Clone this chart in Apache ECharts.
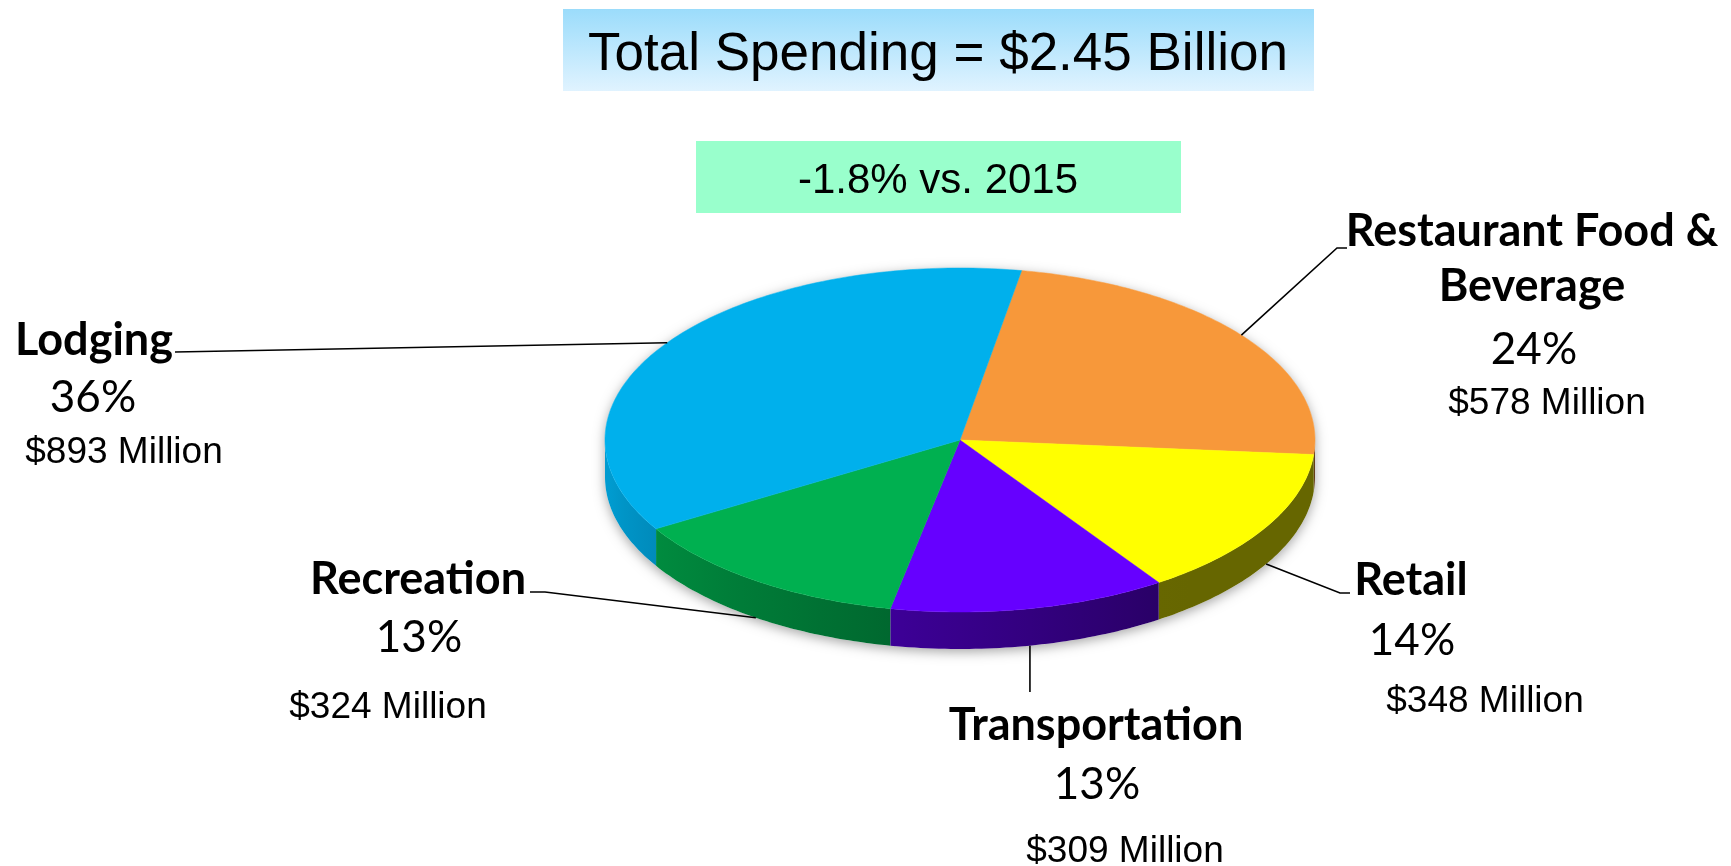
<!DOCTYPE html>
<html>
<head>
<meta charset="utf-8">
<title>Total Spending</title>
<script src="https://cdn.jsdelivr.net/npm/echarts@6/dist/echarts.min.js"></script>
<style>
html, body { margin: 0; padding: 0; background: #fff; }
#main { width: 1731px; height: 866px; }
</style>
</head>
<body>
<div id="main"></div>
<script>
// data
var categories = ['Restaurant Food &\nBeverage', 'Retail', 'Transportation', 'Recreation', 'Lodging'];
var millions = [578, 348, 309, 324, 893];
var shares = [24, 14, 13, 13, 36];
var topColors = ['#f7983a', '#ffff00', '#6600ff', '#00b050', '#00b0ec'];
var totalText = 'Total Spending = $2.45 Billion';
var changeText = '-1.8% vs. 2015';

// pie geometry
var cx = 960, cy = 440, rx = 355, ry = 172, depth = 37;
var startDeg = -80;

// where each label sits: leader line end points, text centre x / baseline y
// (a null x in a line point means "straight down from the slice")
var labelLayout = [
    { line: [[1337, 248], [1347, 248]], name: [1532, 244], gap: 55, pct: [1534, 362], money: [1547, 414] },
    { line: [[1340, 593], [1350, 593]], name: [1411, 593], pct: [1412, 653], money: [1485, 712] },
    { line: [[null, 692]], name: [1096, 738], pct: [1097, 797], money: [1125, 862] },
    { line: [[545, 592], [530, 592]], name: [418, 592], pct: [419, 650], money: [388, 718] },
    { line: [[175, 352]], name: [94, 353], pct: [93, 410], money: [124, 463] }
];

var nameSize = 45, pctSize = 44, moneySize = 37;

var total = millions.reduce(function (a, b) { return a + b; }, 0);
var bounds = [];
var acc = startDeg;
millions.forEach(function (v) {
    var a = acc;
    acc += v / total * 360;
    bounds.push([a, acc]);
});

function pt(t, dy) {
    var r = t * Math.PI / 180;
    return [cx + rx * Math.cos(r), cy + ry * Math.sin(r) + (dy || 0)];
}
function arc(s, e, dy) {
    var pts = [], n = Math.max(2, Math.ceil(Math.abs(e - s)));
    for (var k = 0; k <= n; k++) pts.push(pt(s + (e - s) * k / n, dy));
    return pts;
}
function shade(hex, f) {
    var n = parseInt(hex.slice(1), 16);
    return 'rgb(' + Math.round(((n >> 16) & 255) * f) + ',' + Math.round(((n >> 8) & 255) * f) + ',' + Math.round((n & 255) * f) + ')';
}
function sideF(t) {
    return Math.max(0.4, Math.min(0.88, 0.4 + (t - 55) / 115 * 0.48));
}
// centred text placed by its baseline
function txt(text, x, baseline, family, size, weight) {
    var k = family === 'Lato' ? 0.28 : 0.27;
    return {
        type: 'text',
        x: x,
        y: baseline - size * k,
        style: {
            text: text,
            fontFamily: family, fontSize: size, fontWeight: weight || 'normal',
            fill: '#000',
            align: 'center', textAlign: 'center',
            verticalAlign: 'middle', textVerticalAlign: 'middle'
        }
    };
}

function renderItem(params, api) {
    var i = params.dataIndex;
    var s = bounds[i][0], e = bounds[i][1];
    var color = topColors[i];
    var children = [];

    if (i === 0) {
        // soft shadow under the whole disc
        var outline = arc(180, 360, 0).concat(arc(0, 180, depth));
        children.push({
            type: 'polygon', shape: { points: outline },
            style: { fill: '#fff', shadowBlur: 12, shadowOffsetY: 3, shadowColor: 'rgba(0,0,0,0.35)' }
        });
    }

    // front wall (only the part facing the viewer)
    var ss = Math.max(s, 0), se = Math.min(e, 180);
    if (se > ss) {
        var stops = [];
        var x0 = pt(se)[0], x1 = pt(ss)[0];
        for (var k = 0; k <= 8; k++) {
            var t = se - (se - ss) * k / 8;
            stops.push({ offset: Math.min(1, Math.max(0, (pt(t)[0] - x0) / (x1 - x0))), color: shade(color, sideF(t)) });
        }
        children.push({
            type: 'polygon',
            shape: { points: arc(ss, se, 0).concat(arc(se, ss, depth)) },
            style: { fill: { type: 'linear', x: 0, y: 0, x2: 1, y2: 0, colorStops: stops }, stroke: null }
        });
    }

    // top face
    children.push({
        type: 'polygon',
        shape: { points: [[cx, cy]].concat(arc(s, e, 0)) },
        style: { fill: color, stroke: color, lineWidth: 0.5 }
    });

    // leader line
    var lay = labelLayout[i];
    var mid = (s + e) / 2;
    var anchor = (mid > 0 && mid < 180) ? pt(mid, depth) : pt(mid);
    var pts = [anchor].concat(lay.line.map(function (p) {
        return [p[0] === null ? anchor[0] : p[0], p[1]];
    }));
    children.push({
        type: 'polyline', shape: { points: pts },
        style: { stroke: '#000', lineWidth: 1.6, fill: null }
    });

    // texts
    var lines = categories[i].split('\n');
    lines.forEach(function (ln, j) {
        children.push(txt(ln, lay.name[0], lay.name[1] + j * (lay.gap || 0), 'Lato', nameSize, 'bold'));
    });
    children.push(txt(shares[i] + '%', lay.pct[0], lay.pct[1], 'Lato', pctSize));
    children.push(txt('$' + millions[i] + ' Million', lay.money[0], lay.money[1], 'Liberation Sans', moneySize));

    return { type: 'group', children: children };
}

var myChart = echarts.init(document.getElementById('main'));
var option = {
    animation: false,
    backgroundColor: '#fff',
    graphic: [
        {
            type: 'rect', shape: { x: 563, y: 9, width: 751, height: 82 },
            style: { fill: { type: 'linear', x: 0, y: 0, x2: 0, y2: 1, colorStops: [{ offset: 0, color: '#9bdcfb' }, { offset: 1, color: '#e0f3ff' }] } }
        },
        txt(totalText, 938, 70, 'Liberation Sans', 53),
        { type: 'rect', shape: { x: 696, y: 141, width: 485, height: 72 }, style: { fill: '#99ffcc' } },
        txt(changeText, 938, 193, 'Liberation Sans', 42)
    ],
    series: [{
        type: 'custom',
        coordinateSystem: 'none',
        renderItem: renderItem,
        data: millions
    }]
};
myChart.setOption(option);
</script>
</body>
</html>
